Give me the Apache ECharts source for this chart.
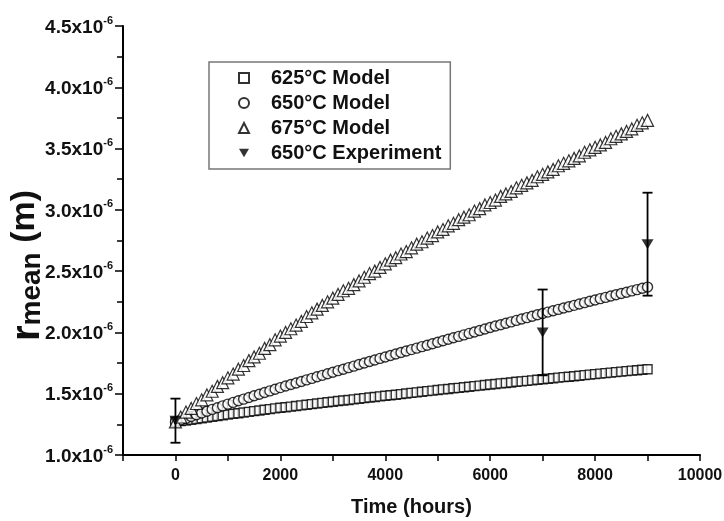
<!DOCTYPE html>
<html>
<head>
<meta charset="utf-8">
<script src="https://cdn.jsdelivr.net/npm/echarts@6/dist/echarts.min.js"></script>
<style>
html,body{margin:0;padding:0;background:#fff;}
#chart{width:724px;height:521px;}
</style>
</head>
<body>
<div id="chart"></div>
<script>
// values in units of 1e-6 m, sampled every 100 hours from 0 to 9000 h
const timeStepHours = 100;
const model625 = [
1.270,1.276,1.282,1.288,1.294,1.300,1.306,1.312,1.318,1.324,
1.330,1.336,1.341,1.347,1.352,1.358,1.363,1.369,1.374,1.380,
1.385,1.390,1.395,1.400,1.405,1.410,1.415,1.420,1.425,1.430,
1.435,1.440,1.445,1.449,1.454,1.459,1.464,1.469,1.473,1.478,
1.483,1.488,1.492,1.497,1.502,1.507,1.511,1.516,1.521,1.525,
1.530,1.535,1.539,1.544,1.548,1.553,1.557,1.562,1.566,1.571,
1.575,1.579,1.584,1.588,1.592,1.597,1.601,1.605,1.609,1.614,
1.618,1.622,1.626,1.631,1.635,1.639,1.643,1.647,1.652,1.656,
1.660,1.664,1.668,1.672,1.676,1.680,1.684,1.688,1.692,1.696,
1.700];
const model650 = [
1.270,1.285,1.299,1.314,1.328,1.343,1.357,1.372,1.386,1.401,
1.415,1.429,1.442,1.456,1.469,1.483,1.496,1.510,1.523,1.537,
1.550,1.563,1.575,1.588,1.600,1.613,1.625,1.638,1.650,1.663,
1.675,1.688,1.700,1.713,1.725,1.738,1.750,1.763,1.775,1.788,
1.800,1.812,1.824,1.836,1.848,1.860,1.872,1.884,1.896,1.908,
1.920,1.932,1.944,1.956,1.968,1.980,1.992,2.004,2.016,2.028,
2.040,2.052,2.063,2.075,2.086,2.098,2.109,2.121,2.132,2.144,
2.155,2.166,2.177,2.188,2.199,2.210,2.221,2.232,2.243,2.254,
2.265,2.276,2.286,2.297,2.307,2.318,2.328,2.339,2.349,2.360,
2.370];
const model675 = [
1.27,1.31,1.35,1.38,1.42,1.45,1.49,1.52,1.56,1.59,
1.63,1.66,1.70,1.73,1.77,1.80,1.83,1.87,1.90,1.94,
1.97,2.00,2.03,2.06,2.09,2.13,2.16,2.19,2.22,2.25,
2.28,2.31,2.34,2.36,2.39,2.42,2.45,2.48,2.50,2.53,
2.56,2.59,2.61,2.64,2.66,2.69,2.72,2.74,2.77,2.79,
2.82,2.84,2.87,2.89,2.92,2.94,2.96,2.99,3.01,3.04,
3.06,3.08,3.11,3.13,3.15,3.18,3.20,3.22,3.24,3.27,
3.29,3.31,3.33,3.36,3.38,3.40,3.42,3.44,3.47,3.49,
3.51,3.53,3.55,3.58,3.60,3.62,3.64,3.66,3.69,3.71,
3.73];
const expTimes = [0, 7000, 9000];
const expMeans = [1.28, 2.00, 2.72];
const expErrors = [0.18, 0.35, 0.42];
const seriesNames = ['625°C Model', '650°C Model', '675°C Model', '650°C Experiment'];
const xTickLabels = [0, 2000, 4000, 6000, 8000, 10000];

const pairs = arr => arr.map((v, i) => [i * timeStepHours, v]);
const chart = echarts.init(document.getElementById('chart'));
const FONT = 'Liberation Sans, Arial, sans-serif';
const hollow = {color: '#fff', borderColor: '#000', borderWidth: 1.4};

chart.setOption({
  animation: false,
  backgroundColor: '#fff',
  grid: {left: 123, right: 24, top: 26, bottom: 66, containLabel: false, outerBoundsMode: 'none'},
  legend: {
    data: seriesNames,
    orient: 'vertical',
    left: 209, top: 62,
    padding: [6, 9, 6, 29],
    borderColor: '#777', borderWidth: 1.5,
    itemWidth: 10, itemHeight: 10, itemGap: 5,
    selectedMode: false,
    textStyle: {fontFamily: FONT, fontSize: 20, fontWeight: 'bold', color: '#111', lineHeight: 20, padding: [0, 0, 0, 17]}
  },
  xAxis: {
    type: 'value', min: -1000, max: 10000, interval: 1000,
    name: 'Time (hours)', nameLocation: 'middle', nameGap: 42,
    nameTextStyle: {fontFamily: FONT, fontSize: 20, fontWeight: 'bold', color: '#111'},
    axisLine: {onZero: false, lineStyle: {color: '#000', width: 2}},
    axisTick: {inside: false, length: 6, lineStyle: {color: '#000', width: 1.5}},
    splitLine: {show: false},
    axisLabel: {
      margin: 13, fontFamily: FONT, fontSize: 16, fontWeight: 'bold', color: '#111',
      formatter: v => xTickLabels.indexOf(v) >= 0 ? String(v) : ''
    }
  },
  yAxis: {
    type: 'value', min: 1.0, max: 4.5, interval: 0.5,
    name: '{r|r}{sub|mean}{p| (m)}', nameLocation: 'middle', nameGap: 77, nameRotate: 90,
    nameMoveOverlap: false,
    nameTextStyle: {
      padding: [0, 50, 0, 0],
      rich: {
        r: {fontFamily: FONT, fontSize: 40, fontWeight: 'bold', color: '#111', verticalAlign: 'top', lineHeight: 38},
        sub: {fontFamily: FONT, fontSize: 28, fontWeight: 'bold', color: '#111', verticalAlign: 'bottom', lineHeight: 28, padding: [14, 0, 0, 0]},
        p: {fontFamily: FONT, fontSize: 34, fontWeight: 'bold', color: '#111', verticalAlign: 'top', lineHeight: 38}
      }
    },
    axisLine: {onZero: false, lineStyle: {color: '#000', width: 2}},
    axisTick: {length: 8, lineStyle: {color: '#000', width: 1.5}},
    minorTick: {show: true, splitNumber: 2, length: 6, lineStyle: {color: '#000', width: 1.5}},
    splitLine: {show: false},
    axisLabel: {
      margin: 10,
      formatter: v => '{m|' + v.toFixed(1) + 'x10}{s|-6}',
      rich: {
        m: {fontFamily: FONT, fontSize: 19, fontWeight: 'bold', color: '#111', lineHeight: 22, verticalAlign: 'bottom'},
        s: {fontFamily: FONT, fontSize: 11, fontWeight: 'bold', color: '#111', verticalAlign: 'top', lineHeight: 22}
      }
    }
  },
  series: [
    {name: seriesNames[0], type: 'scatter', symbol: 'rect', symbolSize: 9, itemStyle: hollow, data: pairs(model625), z: 2},
    {name: seriesNames[1], type: 'scatter', symbol: 'circle', symbolSize: 10, itemStyle: hollow, data: pairs(model650), z: 3},
    {name: seriesNames[2], type: 'scatter', symbol: 'triangle', symbolSize: 12, itemStyle: {color: '#fff', borderColor: '#000', borderWidth: 1.2}, data: pairs(model675), z: 4},
    {
      name: 'errorbars', type: 'custom', z: 5,
      data: expTimes.map((t, i) => [t, expMeans[i], expErrors[i]]),
      renderItem: (params, api) => {
        const x = api.value(0), y = api.value(1), e = api.value(2);
        const top = api.coord([x, y + e]);
        const bot = api.coord([x, y - e]);
        const st = {stroke: '#000', lineWidth: 1.8};
        const hw = 5;
        return {type: 'group', children: [
          {type: 'line', shape: {x1: top[0], y1: top[1], x2: bot[0], y2: bot[1]}, style: st},
          {type: 'line', shape: {x1: top[0] - hw, y1: top[1], x2: top[0] + hw, y2: top[1]}, style: st},
          {type: 'line', shape: {x1: bot[0] - hw, y1: bot[1], x2: bot[0] + hw, y2: bot[1]}, style: st}
        ]};
      }
    },
    {name: seriesNames[3], type: 'scatter', symbol: 'path://M0,0L12,0L6,10Z', symbolSize: [12, 10], itemStyle: {color: '#000'}, z: 6,
     data: expTimes.map((t, i) => [t, expMeans[i]])}
  ]
});
</script>
</body>
</html>
